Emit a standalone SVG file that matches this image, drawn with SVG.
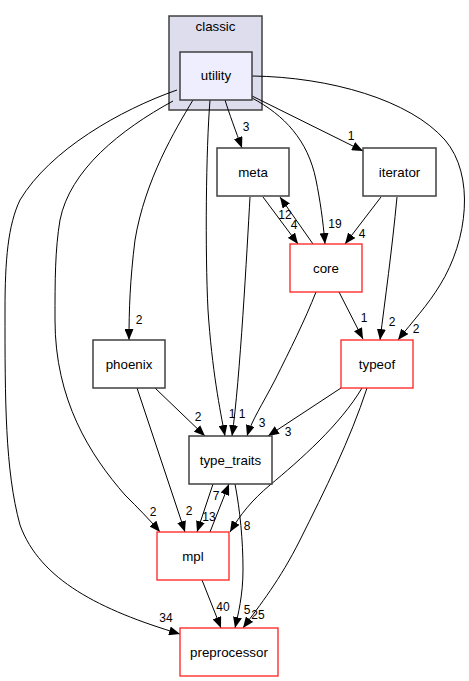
<svg xmlns="http://www.w3.org/2000/svg" width="469" height="681" viewBox="0 0 469 681">
<defs>
<marker id="ah" viewBox="0 0 11 9" refX="11" refY="4.5" markerUnits="userSpaceOnUse" markerWidth="11" markerHeight="9" orient="auto">
<path d="M0,0 L11,4.5 L0,9 z" fill="#000"/>
</marker>
<style>
text{font-family:"Liberation Sans",Arial,sans-serif;fill:#000}
.n text{font-size:13.33px;text-anchor:middle}
.b{fill:#fff;stroke:#404040;stroke-width:1.5}
.r{fill:#fff;stroke:#ff2020;stroke-width:1.3}
#edges path{fill:none;stroke:#000;stroke-width:1;marker-end:url(#ah)}
#edges text{font-size:12px;text-anchor:middle}
</style>
</defs>
<rect width="469" height="681" fill="#fff"/>
<g id="cluster_classic" class="n">
<rect x="169" y="16" width="93" height="94" fill="#ddddee" stroke="#404040" stroke-width="1.5"/>
<text x="215.5" y="31">classic</text>
</g>
<g id="edges">
<path d="M225,100 C229,113 236,132 242,148"/><text x="246" y="131">3</text>
<path d="M252,96 L363,151"/><text x="351" y="140">1</text>
<path d="M252,98 C284,115 308,140 316,180 C320,200 323,220 325,244"/><text x="335" y="228">19</text>
<path d="M252,76 C330,77 410,100 445,140 C475,175 468,240 440,285 C428,305 412,322 398,340"/><text x="416" y="333">2</text>
<path d="M193,100 C175,130 145,180 135,240 C130,280 129,310 129,340"/><text x="139" y="324">2</text>
<path d="M210,100 C206,150 205,250 208,310 C212,370 220,410 225,436"/><text x="232" y="418">1</text>
<path d="M250,197 C247,250 240,380 232,436"/><text x="242" y="418">1</text>
<path d="M173,101 C120,130 70,170 60,220 C55,250 55,280 55,320 C55,400 90,455 125,495 C138,508 150,520 160,532"/><text x="153" y="516">2</text>
<path d="M177,90 C120,110 50,150 20,200 C8,225 5,260 5,310 C5,400 5,470 20,525 C40,580 100,610 180,634"/><text x="166" y="622">34</text>
<path d="M263,197 L298,244"/><text x="294" y="229">4</text>
<path d="M313,244 L280,197"/><text x="285" y="219">12</text>
<path d="M381,197 L345,244"/><text x="362" y="238">4</text>
<path d="M397,197 C392,250 385,300 380,340"/><text x="392" y="326">2</text>
<path d="M339,292 L363,339"/><text x="364" y="322">1</text>
<path d="M316,292 C305,320 290,350 275,380 C262,405 252,420 247,436"/><text x="262" y="427">3</text>
<path d="M341,388 L268,436"/><text x="288" y="436">3</text>
<path d="M362,388 C340,425 300,460 270,485 C252,500 240,515 230,532"/><text x="247" y="530">8</text>
<path d="M367,388 C350,440 325,490 300,540 C280,580 260,605 243,628"/><text x="258" y="619">25</text>
<path d="M235,484 C240,510 243,540 243,570 C243,595 238,615 235,628"/><text x="247" y="614">5</text>
<path d="M202,580 L221,628"/><text x="223" y="611">40</text>
<path d="M213,484 L197,532"/><text x="209" y="521">13</text>
<path d="M210,532 L229,484"/><text x="216" y="500">7</text>
<path d="M155,388 L205,436"/><text x="198" y="421">2</text>
<path d="M137,388 L185,532"/><text x="189" y="515">2</text>
</g>
<g id="utility" class="n"><rect x="180" y="52" width="72" height="48" fill="#eeeeff" stroke="#404040" stroke-width="1.5"/><text x="216" y="80">utility</text></g>
<g id="meta" class="n"><rect class="b" x="217" y="148" width="72" height="48"/><text x="253" y="177">meta</text></g>
<g id="iterator" class="n"><rect class="b" x="363" y="148" width="73" height="48"/><text x="399.5" y="177">iterator</text></g>
<g id="core" class="n"><rect class="r" x="290" y="244" width="72" height="48"/><text x="326" y="273">core</text></g>
<g id="phoenix" class="n"><rect class="b" x="93" y="340" width="72" height="48"/><text x="129" y="369">phoenix</text></g>
<g id="typeof" class="n"><rect class="r" x="341" y="340" width="72" height="48"/><text x="377" y="369">typeof</text></g>
<g id="type_traits" class="n"><rect class="b" x="189" y="436" width="83" height="48"/><text x="230.5" y="465">type_traits</text></g>
<g id="mpl" class="n"><rect class="r" x="157" y="532" width="72" height="48"/><text x="193" y="561">mpl</text></g>
<g id="preprocessor" class="n"><rect class="r" x="180" y="628" width="98" height="48"/><text x="229" y="657">preprocessor</text></g>
</svg>
